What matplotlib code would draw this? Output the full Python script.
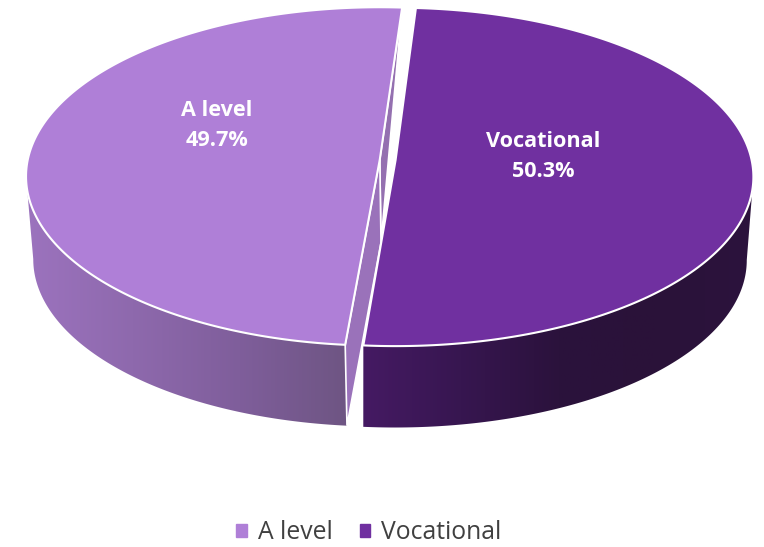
import matplotlib
matplotlib.use('Agg')
import matplotlib.pyplot as plt
import numpy as np
from matplotlib.patches import Patch

# data
categories = ['A level', 'Vocational']
shares = [49.7, 50.3]

colors = ['#AF7FD7', '#7030A0']
edge_col = '#FFFFFF'

# exploded slices have their own centres, all in pixels
first_angle = [4.0 + 50.3 * 3.6, 3.6]
top_xc = [379.8, 395.6]
top_yc = [159.5, 160.0]
top_a = [352., 356.]
bot_xc = [381., 395.]
bot_yc = [242.5, 243.5]
bot_a = [346., 350.]
top_b = 167.5
bot_b = 165.6
persp = 0.1

wall_cols = [['#9C73BE', '#8E69AD', '#7F5E9B', '#6E5583'],
             ['#451A63', '#371650', '#2B123C', '#2A1239', '#2C133D']]


def ring(deg, xc, yc, a, b):
    t = np.radians(deg)
    w = 1. + persp * np.cos(t)
    return xc + a * np.sin(t) / w, yc - b * np.cos(t) / w


fig = plt.figure(figsize=(7.64, 5.47), dpi=100)
ax = fig.add_axes([0, 0, 1, 1])

handles = []
for i in range(2):
    start = first_angle[i]
    stop = start + shares[i] * 3.6
    arc = np.linspace(start, stop, 300)
    tx, ty = ring(arc, top_xc[i], top_yc[i], top_a[i], top_b)

    # side wall, only the front part of the rim shows
    if i == 0:
        vis = np.linspace(start, 264.3, 200)
    else:
        vis = np.linspace(95.7, stop, 200)
    wx, wy = ring(vis, top_xc[i], top_yc[i], top_a[i], top_b)
    bx, by = ring(vis, bot_xc[i], bot_yc[i], bot_a[i], bot_b)
    poly, = ax.fill(np.r_[wx, bx[::-1]], np.r_[wy, by[::-1]], color='none', lw=0)
    cmap = matplotlib.colors.LinearSegmentedColormap.from_list('w', wall_cols[i])
    ramp = np.linspace(0, 1, 256)[None, :]
    im = ax.imshow(ramp, cmap=cmap, aspect='auto', zorder=1,
                   extent=[min(np.r_[wx, bx]), max(np.r_[wx, bx]), 440, 150])
    im.set_clip_path(poly)

    # cut face of the A level slice
    if i == 0:
        cx0, cy0 = ring(start, top_xc[i], top_yc[i], top_a[i], top_b)
        cx1, cy1 = ring(start, bot_xc[i], bot_yc[i], bot_a[i], bot_b)
        ex0, ey0 = ring(stop, top_xc[i], top_yc[i], top_a[i], top_b)
        ax.fill([ex0, top_xc[i], bot_xc[i]], [ey0, top_yc[i], bot_yc[i]],
                color='#9470B0', ec=edge_col, lw=1.2, zorder=2)
        ax.fill([top_xc[i], cx0, cx1, bot_xc[i]], [top_yc[i], cy0, cy1, bot_yc[i]],
                color='#9A72BA', ec=edge_col, lw=1.2, zorder=2)

    top, = ax.fill(np.r_[tx, top_xc[i]], np.r_[ty, top_yc[i]], color=colors[i],
                   ec=edge_col, lw=1.5, zorder=3, joinstyle='miter')
    handles.append(Patch(color=colors[i], label=categories[i]))

ax.text(217, 125.5, '%s\n%.1f%%' % (categories[0], shares[0]), color='white',
        family='Open Sans', weight='bold', fontsize=15.6, ha='center', va='center',
        linespacing=1.55, zorder=4)
ax.text(543, 156.5, '%s\n%.1f%%' % (categories[1], shares[1]), color='white',
        family='Open Sans', weight='bold', fontsize=15.6, ha='center', va='center',
        linespacing=1.55, zorder=4)

ax.set_xlim(0, 764)
ax.set_ylim(547, 0)
ax.axis('off')

fig.legend(handles=handles, loc='center', bbox_to_anchor=(0.483, 0.026), frameon=False,
           ncol=2, prop={'family': 'Open Sans', 'size': 17.8}, labelcolor='#404040',
           handlelength=0.41, handleheight=0.41, handletextpad=0.46, columnspacing=1.09,
           borderpad=0, borderaxespad=0)

fig.savefig('out.png', dpi=100)
